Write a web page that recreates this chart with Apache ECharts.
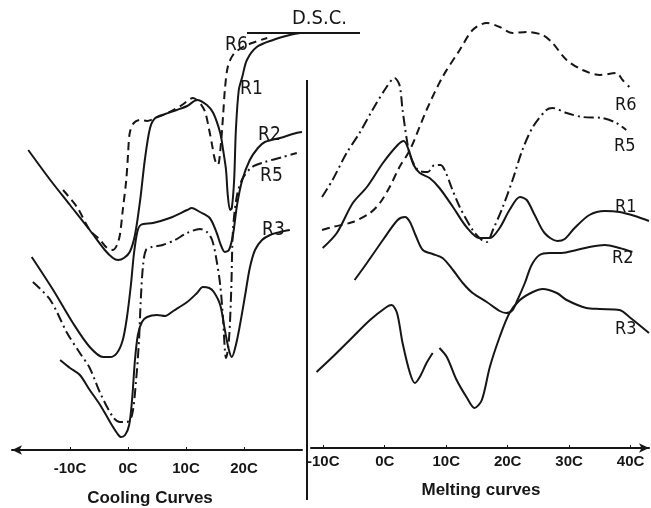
<!DOCTYPE html>
<html>
<head>
<meta charset="utf-8">
<script src="https://cdn.jsdelivr.net/npm/echarts@6/dist/echarts.min.js"></script>
<style>
  html, body { margin: 0; padding: 0; background: #fff; }
  #chart { width: 651px; height: 508px; }
</style>
</head>
<body>
<div id="chart"></div>
<script>
// temperature (C) vs. DSC signal (arbitrary units)
var coolTicks = [-10, 0, 10, 20];
var meltTicks = [-10, 0, 10, 20, 30, 40];

var coolR1 = [[-17.2,300],[-13.4,270],[-10.0,245],[-6.6,220],[-4.0,200],[-2.6,192],[-1.7,190],[-0.7,192],[0.3,198],[1.2,215],[2.1,250],[2.9,290],[3.8,322],[4.7,332],[6.4,336],[8.4,340],[10.2,344],[11.9,350],[13.6,345],[14.7,337],[15.9,317],[16.4,300],[16.9,280],[17.2,255],[17.6,240],[17.9,242],[18.3,270],[18.6,320],[19.1,360],[19.7,373],[20.5,390],[22.2,403],[25.0,410],[27.9,415],[29.7,417]];
var coolR6 = [[-11.2,260],[-8.8,243],[-6.6,220],[-4.8,210],[-3.6,202],[-2.6,200],[-1.9,205],[-1.4,215],[-0.9,240],[-0.3,270],[0,295],[0.3,317],[1.0,327],[2.1,330],[3.3,329],[4.7,332],[7.2,338],[9.3,345],[11.2,352],[12.4,347],[13.3,338],[14.0,320],[14.5,305],[15.0,290],[15.5,285],[16.0,305],[16.4,335],[16.7,360],[17.2,383],[18.1,395],[19.8,403],[21.9,408],[24.0,412]];
var coolR2 = [[-16.6,193],[-12.9,160],[-9.5,127],[-6.6,103],[-4.3,93],[-3.1,93],[-1.9,97],[-0.9,110],[-0.2,132],[0.5,165],[1.0,195],[1.6,218],[2.2,225],[4.3,227],[7.2,232],[10.2,240],[11.0,242],[12.4,238],[14.1,232],[15.3,217],[16.0,205],[16.7,198],[17.4,200],[18.1,215],[18.8,245],[19.7,270],[21.0,290],[22.4,302],[23.6,308],[26.2,312],[29.0,317],[30.0,318]];
var coolR5 = [[-16.4,168],[-13.4,150],[-10.5,117],[-8.3,97],[-6.6,82],[-4.8,57],[-2.6,33],[-1.4,28],[-0.2,28],[0.7,35],[1.4,70],[1.9,110],[2.2,150],[2.6,185],[3.1,200],[4.1,203],[6.0,205],[8.1,210],[10.2,217],[12.4,221],[13.6,218],[14.5,210],[15.2,192],[15.9,165],[16.4,130],[16.7,100],[16.9,92],[17.4,110],[17.8,160],[18.1,220],[18.8,255],[19.8,272],[21.4,283],[23.6,288],[26.7,293],[29.1,297]];
var coolR3 = [[-11.7,90],[-10.0,82],[-8.3,75],[-6.6,60],[-4.8,45],[-3.1,28],[-1.9,17],[-1.2,13],[-0.5,15],[0.2,25],[0.7,50],[1.2,90],[1.7,115],[2.4,128],[3.3,133],[5.0,135],[6.4,134],[7.8,139],[10.2,148],[11.9,157],[12.9,163],[14.0,162],[14.8,158],[15.9,145],[16.7,120],[17.4,100],[17.9,93],[18.6,105],[19.3,125],[20.2,155],[21.0,182],[21.9,200],[23.1,210],[24.5,215],[26.2,218],[27.9,220]];

var meltR6 = [[-10.2,218],[-8.5,221],[-5.2,226],[-2.4,235],[-0.8,245],[0.8,261],[2.4,281],[4.1,298],[6.8,338],[9.4,371],[12.2,398],[14.3,418],[16.6,425],[18.7,421],[20.8,415],[23.1,416],[25.7,413],[27.3,405],[29.6,388],[32.2,378],[35.0,373],[37.7,375],[38.7,368],[39.8,361]];
var meltR5 = [[-10.2,251],[-8.5,268],[-6.2,295],[-4.1,315],[-2.0,338],[0.3,361],[1.6,370],[2.4,363],[2.9,338],[3.6,308],[4.1,293],[5.4,278],[7.0,276],[8.1,283],[9.1,283],[9.9,276],[10.9,260],[12.2,241],[14.3,218],[15.8,208],[16.6,206],[17.6,218],[19.2,241],[20.8,268],[22.4,298],[24.1,321],[26.3,338],[27.3,340],[29.6,335],[32.2,331],[35.4,330],[37.7,325],[39.3,318]];
var meltR1 = [[-10.1,200],[-7.8,215],[-5.2,245],[-2.9,261],[-0.3,285],[2.1,303],[3.1,307],[3.9,298],[4.7,283],[5.7,275],[7.3,270],[8.9,260],[11.1,241],[13.3,221],[15.4,210],[17.1,210],[18.7,220],[20.3,238],[22.0,251],[23.1,248],[24.4,233],[26.0,215],[28.1,207],[29.3,209],[30.9,220],[33.3,233],[35.8,237],[38.2,236],[40.7,232],[43.0,227]];
var meltR2 = [[-4.9,168],[-2.9,185],[-0.3,208],[2.1,228],[3.3,231],[4.1,226],[5.0,213],[6.2,198],[7.8,194],[9.4,190],[11.1,178],[12.7,165],[14.3,155],[16.6,146],[18.7,137],[19.8,135],[20.8,138],[21.6,148],[22.8,165],[23.9,183],[25.2,193],[26.8,195],[28.8,195],[31.2,198],[33.3,201],[35.8,203],[38.2,200],[40.3,196]];
var meltR3 = [[-11.1,76],[-8.5,91],[-5.2,111],[-2.4,128],[0.3,141],[1.1,143],[2.0,135],[2.9,105],[4.1,75],[4.9,65],[5.7,71],[6.8,85],[7.8,95],[8.3,null],[8.9,100],[10.1,91],[11.7,68],[13.3,51],[14.6,40],[15.8,48],[17.1,81],[18.7,111],[20.3,135],[22.0,148],[24.1,156],[25.7,159],[28.0,155],[29.6,148],[32.8,140],[35.0,139],[38.2,138],[39.8,131],[43.0,115]];

var ink = '#161616';
var dashed = [8, 5];
var dashDot = [10, 4, 2, 4];
var labelFont = "'Liberation Sans Narrow', 'DejaVu Sans Condensed', 'Liberation Sans', sans-serif";
var tickFont = "'Liberation Sans', 'DejaVu Sans', sans-serif";

function curve(name, data, xi, dash) {
  return {
    name: name,
    type: 'line',
    xAxisIndex: xi,
    yAxisIndex: xi,
    data: data,
    smooth: 0.3,
    showSymbol: false,
    connectNulls: false,
    lineStyle: { color: ink, width: 2, type: dash || 'solid' },
    silent: true
  };
}

function xAx(gi, min, max, ticks, arrow) {
  return {
    type: 'value',
    gridIndex: gi,
    min: min,
    max: max,
    axisLine: { show: true, symbol: arrow, symbolSize: [7, 10], lineStyle: { color: ink, width: 2 } },
    axisTick: { show: true, inside: true, length: 3, customValues: ticks, lineStyle: { color: ink } },
    axisLabel: {
      customValues: ticks,
      formatter: function (v) { return v + 'C'; },
      color: ink, fontSize: 15, fontWeight: 'bold', fontFamily: tickFont,
      margin: gi === 0 ? 11 : 6
    },
    splitLine: { show: false }
  };
}

function lbl(x, y, text, size) {
  return { type: 'text', x: x, y: y, style: { text: text, fill: ink, font: (size || 19) + 'px ' + labelFont } };
}

function title(x, y, text) {
  return { type: 'text', x: x, y: y, style: { text: text, fill: ink, font: 'bold 17px ' + tickFont, textAlign: 'center' } };
}

var chart = echarts.init(document.getElementById('chart'));
chart.setOption({
  backgroundColor: '#fff',
  animation: false,
  grid: [
    { left: 12, top: 20, width: 290, height: 430 },
    { left: 311, top: 20, width: 338, height: 428 }
  ],
  xAxis: [
    xAx(0, -20, 30, coolTicks, ['arrow', 'none']),
    xAx(1, -12, 43, meltTicks, ['none', 'arrow'])
  ],
  yAxis: [
    { type: 'value', gridIndex: 0, min: 0, max: 430, show: false },
    { type: 'value', gridIndex: 1, min: 0, max: 428, show: false }
  ],
  series: [
    curve('R1', coolR1, 0),
    curve('R6', coolR6, 0, dashed),
    curve('R2', coolR2, 0),
    curve('R5', coolR5, 0, dashDot),
    curve('R3', coolR3, 0),
    curve('R6', meltR6, 1, dashed),
    curve('R5', meltR5, 1, dashDot),
    curve('R1', meltR1, 1),
    curve('R2', meltR2, 1),
    curve('R3', meltR3, 1)
  ],
  graphic: [
    { type: 'line', shape: { x1: 307, y1: 80, x2: 307, y2: 500 }, style: { stroke: ink, lineWidth: 2 } },
    { type: 'line', shape: { x1: 247, y1: 33, x2: 360, y2: 33 }, style: { stroke: ink, lineWidth: 2 } },
    lbl(292, 9, 'D.S.C.', 20),
    lbl(225, 36, 'R6'),
    lbl(240, 80, 'R1'),
    lbl(258, 126, 'R2'),
    lbl(260, 167, 'R5'),
    lbl(262, 221, 'R3'),
    lbl(615, 96, 'R6', 18),
    lbl(614, 137, 'R5', 18),
    lbl(615, 198, 'R1', 18),
    lbl(612, 249, 'R2', 18),
    lbl(615, 320, 'R3', 18),
    title(150, 490, 'Cooling Curves'),
    title(481, 482, 'Melting curves')
  ]
});
</script>
</body>
</html>
